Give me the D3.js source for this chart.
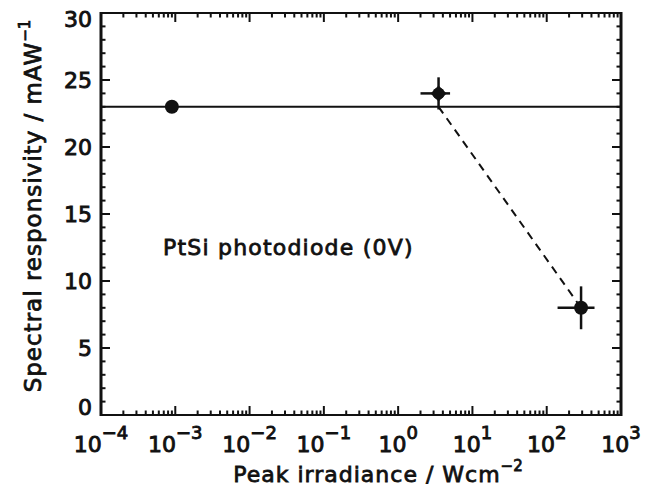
<!DOCTYPE html>
<html><head><meta charset="utf-8">
<script src="https://cdn.jsdelivr.net/npm/d3@7"></script>
<style>
html,body{margin:0;padding:0;background:#fff;}
svg text{font-family:"DejaVu Sans",sans-serif;fill:#111;}
</style></head>
<body><svg id="c" width="646" height="492"></svg>
<script>
// data
const pointX = [0.0009, 3.5, 290];
const pointY = [23, 24, 8];
const xErr = [0, 1.5, 150];
const yErr = [0, 1.2, 1.6];
const pointShape = ["circle", "diamond", "circle"];
const refLineY = 23;
const dashedX = [3.5, 290];
const dashedY = [23, 8];
const yTicks = [0, 5, 10, 15, 20, 25, 30];
const xTickExp = [-4, -3, -2, -1, 0, 1, 2, 3];
const annotation = "PtSi photodiode (0V)";
const xTitle = "Peak irradiance / Wcm";
const xTitleSup = "−2";
const yTitle = "Spectral responsivity / mAW";
const yTitleSup = "−1";

const svg = d3.select("#c");
const L = 101, R = 621, T = 13, B = 415;
const x = d3.scaleLog().domain([1e-4, 1e3]).range([L, R]);
const y = d3.scaleLinear().domain([0, 30]).range([B, T]);
const ink = "#111";

// frame
svg.append("line").attr("x1", L).attr("x2", R).attr("y1", T).attr("y2", T).attr("stroke", ink).attr("stroke-width", 2);
svg.append("line").attr("x1", L).attr("x2", R).attr("y1", B).attr("y2", B).attr("stroke", ink).attr("stroke-width", 2);
svg.append("line").attr("x1", L).attr("x2", L).attr("y1", T - 1).attr("y2", B + 1).attr("stroke", ink).attr("stroke-width", 3);
svg.append("line").attr("x1", R).attr("x2", R).attr("y1", T - 1).attr("y2", B + 1).attr("stroke", ink).attr("stroke-width", 3);

// y ticks
const yMinor = d3.range(0, 31, 1);
const g = svg.append("g").attr("stroke", ink).attr("stroke-width", 2);
yMinor.forEach(v => {
  const len = (v % 5 === 0) ? 9 : 4.5;
  if (v === 0 || v === 30) return;
  g.append("line").attr("x1", L).attr("x2", L + len).attr("y1", y(v)).attr("y2", y(v));
  g.append("line").attr("x1", R).attr("x2", R - len).attr("y1", y(v)).attr("y2", y(v));
});
// x ticks
const xMinor = [];
for (let e = -4; e < 3; e++) for (let k = 1; k < 10; k++) xMinor.push(k * Math.pow(10, e));
xMinor.push(1000);
xMinor.forEach(v => {
  const major = Math.abs(Math.log10(v) - Math.round(Math.log10(v))) < 1e-9;
  if (v === 1e-4 || v === 1e3) return;
  const len = major ? 9 : 4.5;
  g.append("line").attr("x1", x(v)).attr("x2", x(v)).attr("y1", B).attr("y2", B - len);
  g.append("line").attr("x1", x(v)).attr("x2", x(v)).attr("y1", T).attr("y2", T + len);
});

// y tick labels
yTicks.forEach(v => {
  let yy = y(v) + 8;
  if (v === 30) yy = y(v) + 14;
  if (v === 0) yy = y(v) + 0;
  svg.append("text").attr("x", 92).attr("y", yy).attr("text-anchor", "end")
    .attr("font-size", 22).attr("stroke", ink).attr("stroke-width", 0.9).text(v);
});
// x tick labels
xTickExp.forEach(e => {
  const t = svg.append("text").attr("x", x(Math.pow(10, e))).attr("y", 452).attr("text-anchor", "middle")
    .attr("stroke", ink).attr("stroke-width", 0.9);
  t.append("tspan").attr("font-size", 22).text("10");
  t.append("tspan").attr("font-size", 18).attr("dy", -13).text(e < 0 ? "−" + (-e) : String(e));
});

// axis titles
const xt = svg.append("text").attr("x", 378).attr("y", 482).attr("text-anchor", "middle")
  .attr("stroke", ink).attr("stroke-width", 0.8);
xt.append("tspan").attr("font-size", 22).attr("letter-spacing", 1).text(xTitle);
xt.append("tspan").attr("font-size", 15).attr("dy", -11).text(xTitleSup);

const yt = svg.append("text").attr("transform", "translate(41,206) rotate(-90)").attr("text-anchor", "middle")
  .attr("stroke", ink).attr("stroke-width", 0.8);
yt.append("tspan").attr("font-size", 23).attr("letter-spacing", 1).text(yTitle);
yt.append("tspan").attr("font-size", 15).attr("dy", -11).text(yTitleSup);

// annotation
svg.append("text").attr("x", 163).attr("y", 255).attr("font-size", 22).attr("letter-spacing", 1.2)
  .attr("stroke", ink).attr("stroke-width", 0.8).text(annotation);

// reference line
svg.append("line").attr("x1", L).attr("x2", R).attr("y1", y(refLineY)).attr("y2", y(refLineY))
  .attr("stroke", ink).attr("stroke-width", 2);

// dashed line
const line = d3.line().x(d => x(d[0])).y(d => y(d[1]));
svg.append("path").attr("d", line(dashedX.map((v, i) => [v, dashedY[i]])))
  .attr("fill", "none").attr("stroke", ink).attr("stroke-width", 2).attr("stroke-dasharray", "8,6");

// error bars
const eb = svg.append("g").attr("stroke", ink).attr("stroke-width", 2.5);
pointX.forEach((px, i) => {
  if (xErr[i] > 0) eb.append("line").attr("x1", x(px - xErr[i])).attr("x2", x(px + xErr[i])).attr("y1", y(pointY[i])).attr("y2", y(pointY[i]));
  if (yErr[i] > 0) eb.append("line").attr("x1", x(px)).attr("x2", x(px)).attr("y1", y(pointY[i] - yErr[i])).attr("y2", y(pointY[i] + yErr[i]));
});
// markers
pointX.forEach((px, i) => {
  const cx = x(px), cy = y(pointY[i]);
  if (pointShape[i] === "circle") {
    svg.append("circle").attr("cx", cx).attr("cy", cy).attr("r", 7).attr("fill", ink);
  } else {
    svg.append("circle").attr("cx", cx).attr("cy", cy).attr("r", 6).attr("fill", ink);
    svg.append("path").attr("d", `M${cx - 8},${cy}L${cx},${cy - 8}L${cx + 8},${cy}L${cx},${cy + 8}Z`).attr("fill", ink);
  }
});
</script></body></html>
